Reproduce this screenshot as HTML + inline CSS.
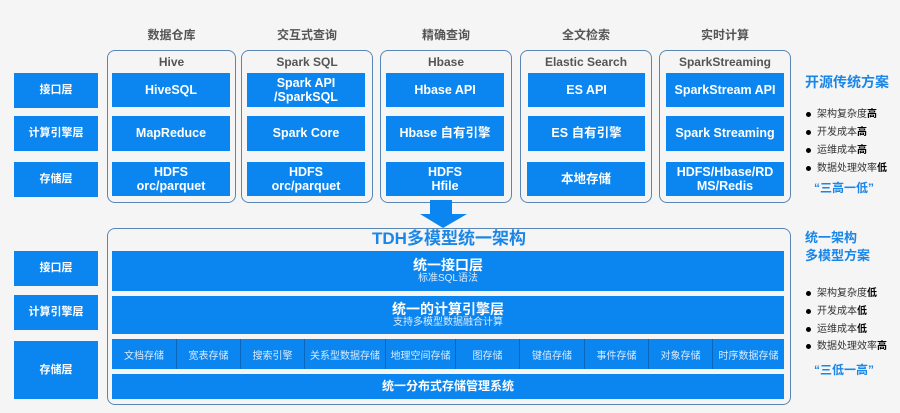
<!DOCTYPE html>
<html><head><meta charset="utf-8"><style>
*{margin:0;padding:0;box-sizing:border-box}
body{width:900px;height:413px;background:#f5f5f5;position:relative;overflow:hidden;font-family:"Liberation Sans","Noto Sans CJK SC",sans-serif}
.a{position:absolute}
.b{position:absolute;background:#0b86f0;color:#fff;font-weight:bold;display:flex;align-items:center;justify-content:center;text-align:center;line-height:1.15}
.g{position:absolute;border:1.5px solid #5a86b5;border-radius:8px}
.h{position:absolute;font-size:12px;font-weight:bold;color:#555;text-align:center}
.lab{font-size:11px}
.in{font-size:12.5px}
.bl{position:absolute;font-size:10px;color:#333}
.bl b{color:#000}
.dot{display:inline-block;width:5px;height:5px;border-radius:50%;background:#000;margin-right:6px;vertical-align:middle}
.cell{position:absolute;top:339px;height:30px;background:#0b86f0;color:#d8ebff;font-size:10px;display:flex;align-items:center;justify-content:center;border-right:1px solid #0866bd}
</style></head><body>
<div class="h" style="left:107px;top:26px;width:129px">数据仓库</div>
<div class="h" style="left:241px;top:26px;width:132px">交互式查询</div>
<div class="h" style="left:380px;top:26px;width:132px">精确查询</div>
<div class="h" style="left:520px;top:26px;width:132px">全文检索</div>
<div class="h" style="left:659px;top:26px;width:132px">实时计算</div>

<div class="b lab" style="left:14px;top:73px;width:84px;height:35px">接口层</div>
<div class="b lab" style="left:14px;top:116px;width:84px;height:35px">计算引擎层</div>
<div class="b lab" style="left:14px;top:162px;width:84px;height:35px">存储层</div>

<div class="g" style="left:107px;top:50px;width:129px;height:153px"></div>
<div class="h" style="left:107px;top:55px;width:129px">Hive</div>
<div class="b in" style="left:112px;top:73px;width:118px;height:34px">HiveSQL</div>
<div class="b in" style="left:112px;top:116px;width:118px;height:35px">MapReduce</div>
<div class="b in" style="left:112px;top:162px;width:118px;height:34px">HDFS<br>orc/parquet</div>

<div class="g" style="left:241px;top:50px;width:132px;height:153px"></div>
<div class="h" style="left:241px;top:55px;width:132px">Spark SQL</div>
<div class="b in" style="left:247px;top:73px;width:118px;height:34px">Spark API<br>/SparkSQL</div>
<div class="b in" style="left:247px;top:116px;width:118px;height:35px">Spark Core</div>
<div class="b in" style="left:247px;top:162px;width:118px;height:34px">HDFS<br>orc/parquet</div>

<div class="g" style="left:380px;top:50px;width:132px;height:153px"></div>
<div class="h" style="left:380px;top:55px;width:132px">Hbase</div>
<div class="b in" style="left:386px;top:73px;width:118px;height:34px">Hbase API</div>
<div class="b in" style="left:386px;top:116px;width:118px;height:35px">Hbase 自有引擎</div>
<div class="b in" style="left:386px;top:162px;width:118px;height:34px">HDFS<br>Hfile</div>

<div class="g" style="left:520px;top:50px;width:132px;height:153px"></div>
<div class="h" style="left:520px;top:55px;width:132px">Elastic Search</div>
<div class="b in" style="left:528px;top:73px;width:117px;height:34px">ES API</div>
<div class="b in" style="left:528px;top:116px;width:117px;height:35px">ES 自有引擎</div>
<div class="b in" style="left:527px;top:162px;width:118px;height:34px">本地存储</div>

<div class="g" style="left:659px;top:50px;width:132px;height:153px"></div>
<div class="h" style="left:659px;top:55px;width:132px">SparkStreaming</div>
<div class="b in" style="left:666px;top:73px;width:118px;height:34px">SparkStream API</div>
<div class="b in" style="left:666px;top:116px;width:118px;height:35px">Spark Streaming</div>
<div class="b in" style="left:666px;top:162px;width:118px;height:34px">HDFS/Hbase/RD<br>MS/Redis</div>

<div class="a" style="left:805px;top:72px;font-size:14px;font-weight:bold;color:#1a86e8">开源传统方案</div>
<div class="bl" style="left:806px;top:105px"><span class="dot"></span>架构复杂度<b>高</b></div>
<div class="bl" style="left:806px;top:123px"><span class="dot"></span>开发成本<b>高</b></div>
<div class="bl" style="left:806px;top:141px"><span class="dot"></span>运维成本<b>高</b></div>
<div class="bl" style="left:806px;top:159px"><span class="dot"></span>数据处理效率<b>低</b></div>
<div class="a" style="left:814px;top:179px;font-size:12px;font-weight:bold;color:#1a86e8">“三高一低”</div>

<svg class="a" style="left:0;top:0" width="900" height="413"><polygon points="430,200 452,200 452,214 467,214 443,228 420,214 430,214" fill="#0b86f0"/></svg>

<div class="b lab" style="left:14px;top:251px;width:84px;height:35px">接口层</div>
<div class="b lab" style="left:14px;top:295px;width:84px;height:35px">计算引擎层</div>
<div class="b lab" style="left:14px;top:341px;width:84px;height:58px">存储层</div>

<div class="g" style="left:107px;top:228px;width:684px;height:177px"></div>
<div class="a" style="left:107px;top:230px;width:684px;text-align:center;font-size:17px;line-height:18px;font-weight:bold;color:#1a86e8">TDH多模型统一架构</div>
<div class="b" style="left:112px;top:251px;width:672px;height:40px;flex-direction:column"><span style="font-size:14px;line-height:16px">统一接口层</span><span style="font-size:10px;line-height:12px;font-weight:normal;color:#d8ebff">标准SQL语法</span></div>
<div class="b" style="left:112px;top:296px;width:672px;height:38px;flex-direction:column"><span style="font-size:14px;line-height:16px">统一的计算引擎层</span><span style="font-size:10px;line-height:12px;font-weight:normal;color:#d8ebff">支持多模型数据融合计算</span></div>
<div class="cell" style="left:112px;width:65px">文档存储</div>
<div class="cell" style="left:177px;width:64px">宽表存储</div>
<div class="cell" style="left:241px;width:64px">搜索引擎</div>
<div class="cell" style="left:305px;width:81px">关系型数据存储</div>
<div class="cell" style="left:386px;width:70px">地理空间存储</div>
<div class="cell" style="left:456px;width:64px">图存储</div>
<div class="cell" style="left:520px;width:65px">键值存储</div>
<div class="cell" style="left:585px;width:64px">事件存储</div>
<div class="cell" style="left:649px;width:64px">对象存储</div>
<div class="cell" style="left:713px;width:71px;border-right:none">时序数据存储</div>
<div class="b" style="left:112px;top:374px;width:672px;height:25px;font-size:12px">统一分布式存储管理系统</div>

<div class="a" style="left:805px;top:229px;font-size:13px;font-weight:bold;color:#1a86e8;line-height:18px">统一架构<br>多模型方案</div>
<div class="bl" style="left:806px;top:284px"><span class="dot"></span>架构复杂度<b>低</b></div>
<div class="bl" style="left:806px;top:302px"><span class="dot"></span>开发成本<b>低</b></div>
<div class="bl" style="left:806px;top:320px"><span class="dot"></span>运维成本<b>低</b></div>
<div class="bl" style="left:806px;top:337px"><span class="dot"></span>数据处理效率<b>高</b></div>
<div class="a" style="left:814px;top:361px;font-size:12px;font-weight:bold;color:#1a86e8">“三低一高”</div>
</body></html>
